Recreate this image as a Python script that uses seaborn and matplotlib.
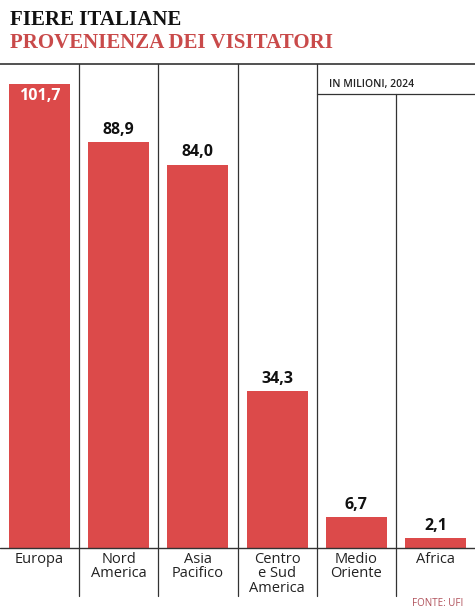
import matplotlib
matplotlib.use("Agg")
import matplotlib.pyplot as plt
import seaborn as sns
import pandas as pd
from matplotlib.lines import Line2D

# Data
regions = ["Europa", "Nord\nAmerica", "Asia\nPacifico", "Centro\ne Sud\nAmerica", "Medio\nOriente", "Africa"]
visitors = [101.7, 88.9, 84.0, 34.3, 6.7, 2.1]
value_labels = ["101,7", "88,9", "84,0", "34,3", "6,7", "2,1"]

df = pd.DataFrame({"region": regions, "visitors": visitors})

sns.set_style("white")
plt.rcParams['font.family'] = ['Open Sans', 'DejaVu Sans']

W, H = 475, 611
fig = plt.figure(figsize=(W / 100, H / 100), dpi=100)
ax = fig.add_axes([0, (H - 548) / H, 1, (548 - 64) / H])

red = "#dc4a4a"
sns.barplot(data=df, x="region", y="visitors", color=red, width=0.77,
            saturation=1, linewidth=0, ax=ax)
ax.set_xlim(-0.5, len(regions) - 0.5)
ax.set_ylim(0, (548 - 64) / 4.565)
ax.axis("off")

for i, (v, lab) in enumerate(zip(visitors, value_labels)):
    if i == 0:
        ax.text(i, v - 0.9, lab, ha="center", va="top", color="white",
                fontsize=11.5, fontweight="bold")
    else:
        ax.text(i, v + 1.0, lab, ha="center", va="bottom", color="#111111",
                fontsize=11.5, fontweight="bold")

def fy(y):
    return (H - y) / H

# Category labels below baseline
for i, r in enumerate(regions):
    fig.text((i + 0.5) / 6, fy(552), r, ha="center", va="top",
             fontsize=10.5, color="#222222", linespacing=0.95)

lc = "#333333"
fig.add_artist(Line2D([0, 1], [fy(64), fy(64)], color=lc, lw=1.2))
fig.add_artist(Line2D([0, 1], [fy(548), fy(548)], color=lc, lw=1.0))
for k in range(1, 6):
    x = k / 6
    top = 94 if k == 5 else 64
    fig.add_artist(Line2D([x, x], [fy(top), fy(596)], color=lc, lw=0.9))
fig.add_artist(Line2D([4 / 6, 1], [fy(94), fy(94)], color=lc, lw=0.9))
fig.text(329 / W, fy(84), "IN MILIONI, 2024",
         fontsize=7.5, color="#222222", va="center", ha="left", fontweight="semibold")

# Titles
fig.text(10 / W, fy(20), "FIERE ITALIANE", family="Liberation Serif",
         fontweight="bold", fontsize=15, color="#111111", va="center")
fig.text(10 / W, fy(43), "PROVENIENZA DEI VISITATORI", family="Liberation Serif",
         fontweight="bold", fontsize=15, color="#c94a4a", va="center")
fig.text(463 / W, fy(604), "FONTE: UFI", fontsize=7, color="#b0505a",
         ha="right", va="center")

fig.savefig("out.png", dpi=100)
